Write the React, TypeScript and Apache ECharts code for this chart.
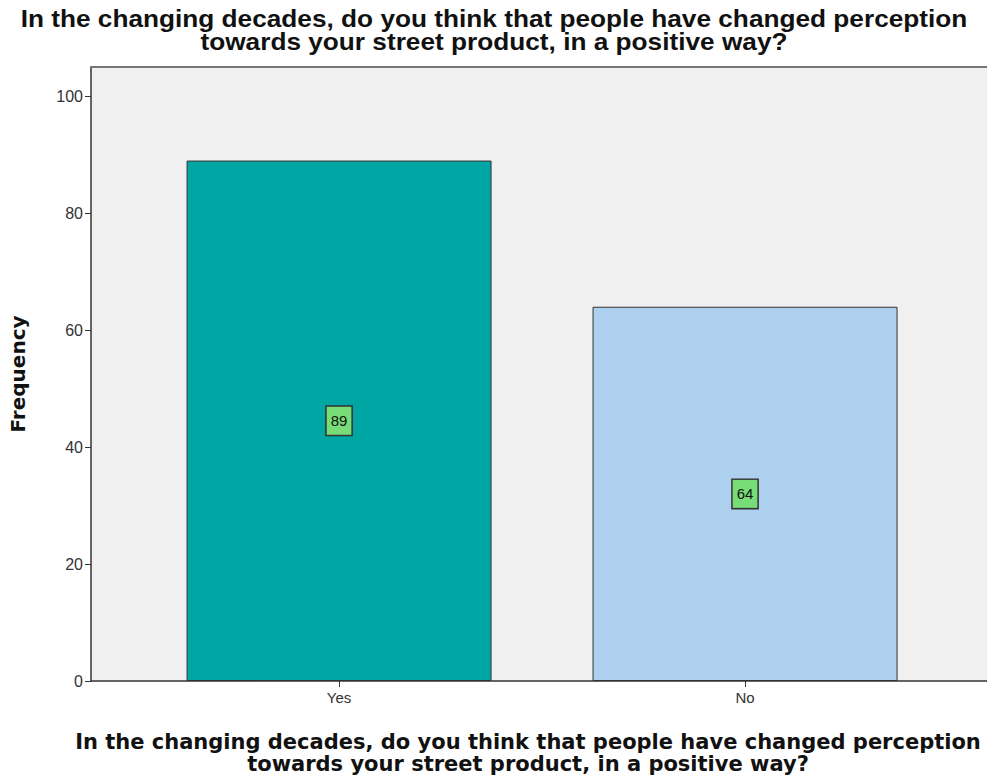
import React, { useEffect, useRef } from "react";
import * as echarts from "echarts";

const categories = ["Yes", "No"];
const frequencies = [89, 64];
const yTicks = [0, 20, 40, 60, 80, 100];
const titleText =
  "In the changing decades, do you think that people have changed perception\ntowards your street product, in a positive way?";
const xAxisTitle = titleText;
const yAxisTitle = "Frequency";
const barColors = ["#00A6A4", "#ADD0EE"];

export default function App() {
  const ref = useRef<HTMLDivElement>(null);
  useEffect(() => {
    document.body.style.margin = "0";
    const chart = echarts.init(ref.current!, null, { renderer: "svg" });
    const data = frequencies.map((v, i) => ({
      value: [i, v],
      itemStyle: { color: barColors[i] },
    }));
    const xMin = -0.611;
    const xMax = 1.596;
    chart.setOption({
      animation: false,
      backgroundColor: "#ffffff",
      grid: {
        left: 91,
        top: 67,
        bottom: 101,
        right: 0,
        show: true,
        backgroundColor: "#F0F0F0",
        borderWidth: 0,
      },
      xAxis: [
        {
          type: "value",
          min: xMin,
          max: xMax,
          splitLine: { show: false },
          axisLine: { show: true, onZero: false, lineStyle: { color: "#333", width: 1.5 } },
          axisTick: {
            show: true,
            customValues: [0, 1],
            length: 6,
            lineStyle: { color: "#333" },
          },
          axisLabel: {
            customValues: [0, 1],
            formatter: (v: number) => categories[Math.round(v)] ?? "",
            fontFamily: "Liberation Sans",
            fontSize: 15,
            color: "#333",
            margin: 9,
          },
        },
        {
          type: "value",
          position: "top",
          min: xMin,
          max: xMax,
          splitLine: { show: false },
          axisLine: { show: true, onZero: false, lineStyle: { color: "#777", width: 2 } },
          axisTick: { show: false },
          axisLabel: { show: false },
        },
      ],
      yAxis: {
        type: "value",
        min: 0,
        max: 105,
        name: yAxisTitle,
        nameLocation: "middle",
        nameGap: 63,
        nameTextStyle: {
          fontFamily: "DejaVu Sans",
          fontWeight: "bold",
          fontSize: 20,
          color: "#111",
        },
        splitLine: { show: false },
        axisLine: { show: true, onZero: false, lineStyle: { color: "#333", width: 1.5 } },
        axisTick: {
          show: true,
          customValues: yTicks,
          length: 6,
          lineStyle: { color: "#333" },
        },
        axisLabel: {
          customValues: yTicks,
          fontFamily: "Liberation Sans",
          fontSize: 16,
          color: "#333",
          margin: 8,
        },
      },
      series: [
        {
          type: "bar",
          data,
          barWidth: 305,
          itemStyle: { borderColor: "#333", borderWidth: 1 },
          label: {
            show: true,
            position: "inside",
            formatter: (p: any) => String(p.value[1]),
            fontFamily: "Liberation Sans",
            fontSize: 15,
            color: "#111",
            backgroundColor: "#77DD77",
            borderColor: "#333",
            borderWidth: 1.5,
            padding: [7, 4, 6, 4],
          },
        },
      ],
      graphic: [
        {
          type: "text",
          x: 494,
          y: 8,
          scaleX: 1.14,
          style: {
            text: titleText,
            textAlign: "center",
            fontFamily: "Liberation Sans",
            fontWeight: "bold",
            fontSize: 23,
            lineHeight: 23,
            fill: "#111",
          },
        },
        {
          type: "text",
          x: 528,
          y: 731,
          style: {
            text: xAxisTitle,
            textAlign: "center",
            fontFamily: "DejaVu Sans",
            fontWeight: "bold",
            fontSize: 21,
            lineHeight: 22,
            fill: "#111",
          },
        },
      ],
    });
    return () => chart.dispose();
  }, []);
  return (
    <div
      ref={ref}
      style={{ position: "fixed", left: 0, top: 0, width: 987, height: 782 }}
    />
  );
}
